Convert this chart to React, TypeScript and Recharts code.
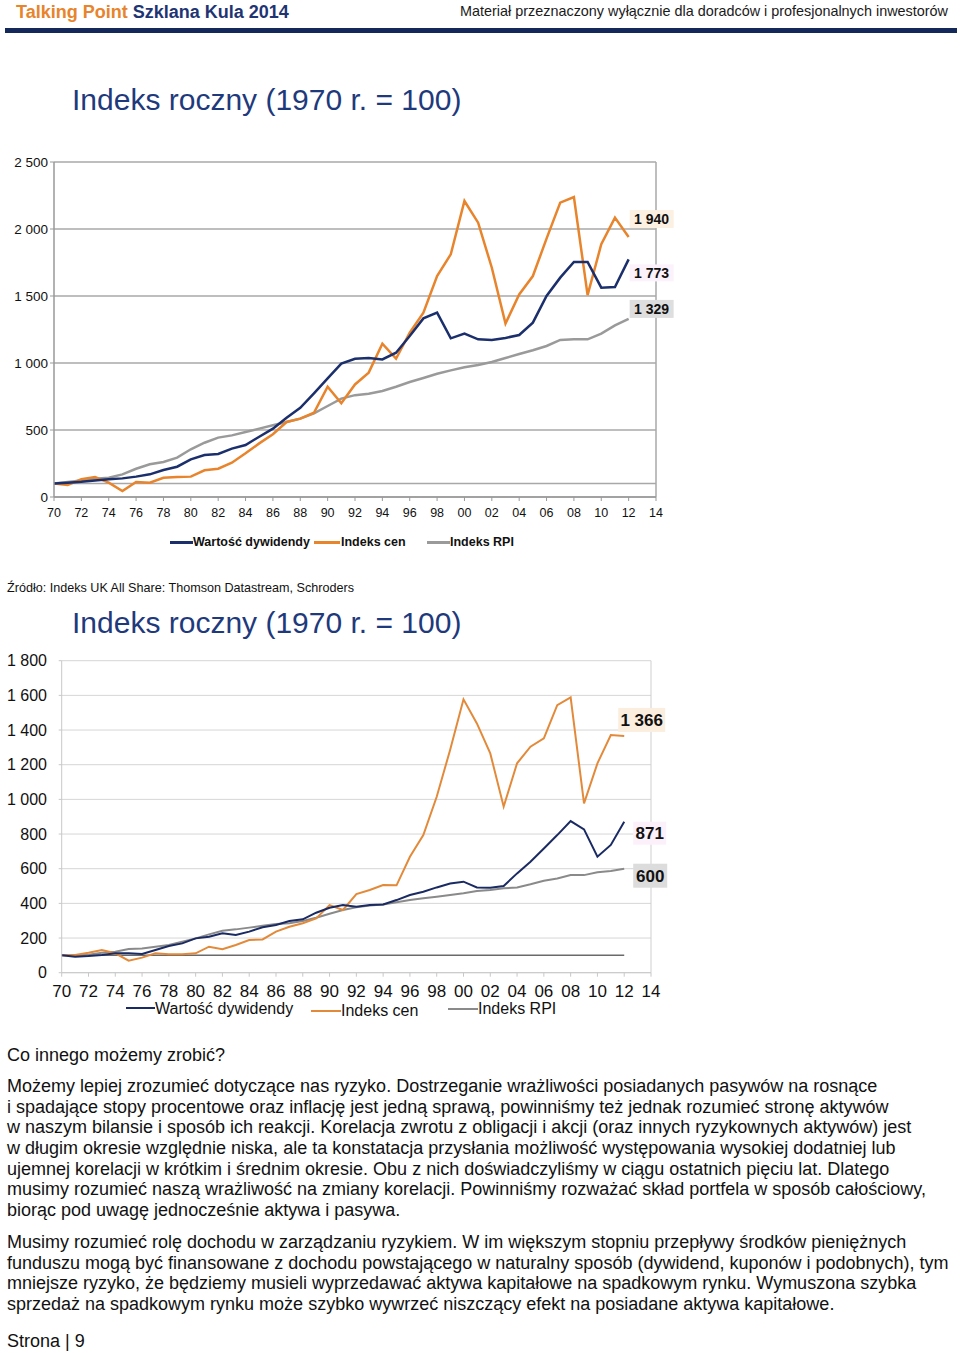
import React from 'react';
import { LineChart, Line, XAxis, YAxis, CartesianGrid, ReferenceLine, LabelList } from 'recharts';

// ---------- data ----------
const years = [
  1970, 1971, 1972, 1973, 1974, 1975, 1976, 1977, 1978, 1979,
  1980, 1981, 1982, 1983, 1984, 1985, 1986, 1987, 1988, 1989,
  1990, 1991, 1992, 1993, 1994, 1995, 1996, 1997, 1998, 1999,
  2000, 2001, 2002, 2003, 2004, 2005, 2006, 2007, 2008, 2009,
  2010, 2011, 2012,
];

// Chart 1 (nominal)
const dividends1 = [
  100, 107, 114, 124, 132, 139, 152, 169, 201, 226,
  281, 313, 321, 361, 388, 450, 510, 592, 665, 774,
  885, 995, 1032, 1037, 1027, 1077, 1201, 1333, 1376, 1184,
  1219, 1177, 1172, 1187, 1209, 1301, 1500, 1637, 1754, 1754,
  1562, 1567, 1773,
];
const prices1 = [
  100, 90, 132, 149, 107, 45, 112, 107, 144, 149,
  152, 199, 211, 256, 326, 400, 468, 560, 585, 629,
  823, 700, 840, 928, 1144, 1032, 1226, 1376, 1649, 1811,
  2209, 2047, 1711, 1294, 1512, 1649, 1928, 2197, 2239, 1507,
  1886, 2085, 1940,
];
const rpi1 = [
  100, 112, 124, 137, 144, 169, 211, 244, 261, 294,
  356, 405, 443, 460, 485, 510, 535, 560, 585, 624,
  679, 734, 760, 771, 791, 823, 858, 888, 920, 945,
  968, 985, 1007, 1037, 1067, 1095, 1127, 1172, 1177, 1177,
  1219, 1281, 1329,
];

// Chart 2 (real terms)
const dividends2 = [
  100, 92, 96, 102, 112, 112, 108, 131, 154, 169,
  198, 208, 227, 217, 237, 262, 275, 298, 308, 346,
  375, 390, 381, 390, 394, 419, 448, 467, 492, 515,
  525, 492, 490, 500, 573, 640, 717, 794, 875, 827,
  669, 737, 871,
];
const prices2 = [
  100, 102, 115, 131, 112, 69, 87, 112, 106, 106,
  112, 150, 135, 160, 188, 192, 237, 265, 285, 313,
  390, 362, 454, 477, 506, 504, 669, 794, 1015, 1285,
  1577, 1438, 1265, 958, 1208, 1304, 1352, 1544, 1588, 977,
  1208, 1371, 1366,
];
const rpi2 = [
  100, 100, 104, 115, 121, 137, 140, 150, 160, 179,
  198, 221, 242, 250, 260, 271, 281, 285, 298, 317,
  340, 362, 377, 387, 394, 406, 419, 429, 438, 448,
  458, 471, 477, 487, 492, 510, 531, 544, 563, 563,
  579, 587, 600,
];

const yearTicks = [
  1970, 1972, 1974, 1976, 1978, 1980, 1982, 1984, 1986, 1988, 1990, 1992,
  1994, 1996, 1998, 2000, 2002, 2004, 2006, 2008, 2010, 2012, 2014,
];
const yTicks1 = [0, 500, 1000, 1500, 2000, 2500];
const yTicks2 = [0, 200, 400, 600, 800, 1000, 1200, 1400, 1600, 1800];
const baseValue = 100;

const seriesNames = ['Wartość dywidendy', 'Indeks cen', 'Indeks RPI'];

const titleText = 'Indeks roczny (1970 r. = 100)';
const sourceText = 'Źródło: Indeks UK All Share: Thomson Datastream, Schroders';
const para1 = [
  'Możemy lepiej zrozumieć dotyczące nas ryzyko. Dostrzeganie wrażliwości posiadanych pasywów na rosnące',
  'i spadające stopy procentowe oraz inflację jest jedną sprawą, powinniśmy też jednak rozumieć stronę aktywów',
  'w naszym bilansie i sposób ich reakcji. Korelacja zwrotu z obligacji i akcji (oraz innych ryzykownych aktywów) jest',
  'w długim okresie względnie niska, ale ta konstatacja przysłania możliwość występowania wysokiej dodatniej lub',
  'ujemnej korelacji w krótkim i średnim okresie. Obu z nich doświadczyliśmy w ciągu ostatnich pięciu lat. Dlatego',
  'musimy rozumieć naszą wrażliwość na zmiany korelacji. Powinniśmy rozważać skład portfela w sposób całościowy,',
  'biorąc pod uwagę jednocześnie aktywa i pasywa.',
];
const para2 = [
  'Musimy rozumieć rolę dochodu w zarządzaniu ryzykiem. W im większym stopniu przepływy środków pieniężnych',
  'funduszu mogą być finansowane z dochodu powstającego w naturalny sposób (dywidend, kuponów i podobnych), tym',
  'mniejsze ryzyko, że będziemy musieli wyprzedawać aktywa kapitałowe na spadkowym rynku. Wymuszona szybka',
  'sprzedaż na spadkowym rynku może szybko wywrzeć niszczący efekt na posiadane aktywa kapitałowe.',
];

// ---------- helpers ----------
const FONT = "'Liberation Sans', Arial, Helvetica, sans-serif";
const NAVY = '#1b2f6c';
const ORANGE = '#e8842c';
const GRAY = '#9a9a9a';

const fmtThousands = (v: number) => {
  const s = String(Math.round(v));
  return s.length > 3 ? s.slice(0, s.length - 3) + ' ' + s.slice(-3) : s;
};
const fmtYear = (v: number) => String(v % 100).padStart(2, '0');

const data1 = years.map((y, i) => ({ year: y, div: dividends1[i], price: prices1[i], rpi: rpi1[i] }));
const data2 = years.map((y, i) => ({ year: y, div: dividends2[i], price: prices2[i], rpi: rpi2[i] }));
const lastIdx = years.length - 1;

type Box = { dx: number; dy: number; w: number; h: number };
function endLabel(box: Box, fill: string, fontSize: number) {
  return (props: any) => {
    const { x, y, value, index } = props;
    if (index !== lastIdx) return null;
    const bx = Number(x) + box.dx;
    const by = Number(y) + box.dy;
    return (
      <g>
        <rect x={bx} y={by} width={box.w} height={box.h} fill={fill} />
        <text
          x={bx + box.w / 2}
          y={by + box.h / 2}
          dy="0.36em"
          textAnchor="middle"
          fontWeight="bold"
          fontSize={fontSize}
          fontFamily={FONT}
          fill="#111"
        >
          {fmtThousands(Number(value))}
        </text>
      </g>
    );
  };
}

const abs = (left: number, top: number, extra: React.CSSProperties = {}): React.CSSProperties => ({
  position: 'absolute',
  left,
  top,
  whiteSpace: 'nowrap',
  ...extra,
});

function LegendLine({ left, top, width, color, h = 2.5 }: { left: number; top: number; width: number; color: string; h?: number }) {
  return <div style={abs(left, top, { width, height: h, background: color })} />;
}

export default function App() {
  const bodyFont = 18;
  const bodyLH = 20.65;
  return (
    <div
      style={{
        position: 'absolute',
        left: 0,
        top: 0,
        width: 960,
        height: 1353,
        background: '#fff',
        fontFamily: FONT,
        color: '#111',
        overflow: 'hidden',
      }}
    >
      {/* Header */}
      <div style={abs(16, 2, { fontSize: 18, lineHeight: '20px', fontWeight: 'bold' })}>
        <span style={{ color: ORANGE }}>Talking Point </span>
        <span style={{ color: '#1f3573' }}>Szklana Kula 2014</span>
      </div>
      <div style={abs(0, 3, { width: 948, textAlign: 'right', fontSize: 14.4, lineHeight: '17px', color: '#1a1a1a' })}>
        Materiał przeznaczony wyłącznie dla doradców i profesjonalnych inwestorów
      </div>
      <div style={abs(5, 28, { width: 952, height: 5, background: '#14285a' })} />

      {/* Title 1 */}
      <div style={abs(72, 85, { fontSize: 30, lineHeight: '30px', color: '#1f3a7c' })}>{titleText}</div>

      {/* Chart 1 */}
      <div style={abs(0, 150)}>
        <LineChart width={680} height={370} data={data1} margin={{ top: 12, right: 24, bottom: 3, left: 4 }}>
          <CartesianGrid vertical={false} stroke="#a8a8a8" strokeWidth={1.5} />
          <XAxis
            dataKey="year"
            type="number"
            domain={[1970, 2014]}
            ticks={yearTicks}
            interval={0}
            tickFormatter={fmtYear}
            tickSize={4}
            tickMargin={7}
            height={20}
            axisLine={{ stroke: '#999', strokeWidth: 1.5 }}
            tickLine={{ stroke: '#999' }}
            tick={{ fontSize: 12.5, fill: '#111', fontFamily: FONT }}
          />
          <YAxis
            domain={[0, 2500]}
            ticks={yTicks1}
            interval={0}
            tickFormatter={fmtThousands}
            tickSize={4}
            tickMargin={2}
            width={50}
            axisLine={{ stroke: '#999', strokeWidth: 1.5 }}
            tickLine={{ stroke: '#999' }}
            tick={{ fontSize: 13.5, fill: '#111', fontFamily: FONT }}
          />
          <ReferenceLine x={2014} stroke="#a8a8a8" strokeWidth={1.5} />
          <ReferenceLine y={baseValue} stroke="#a8a8a8" strokeWidth={1.5} />
          <Line dataKey="rpi" name={seriesNames[2]} stroke={GRAY} strokeWidth={2.5} dot={false} isAnimationActive={false} type="linear">
            <LabelList dataKey="rpi" content={endLabel({ dx: 1, dy: -19, w: 44, h: 18 }, '#dedede', 14)} />
          </Line>
          <Line dataKey="price" name={seriesNames[1]} stroke={ORANGE} strokeWidth={2.5} dot={false} isAnimationActive={false} type="linear">
            <LabelList dataKey="price" content={endLabel({ dx: 1, dy: -27, w: 44, h: 18 }, '#fcf0e2', 14)} />
          </Line>
          <Line dataKey="div" name={seriesNames[0]} stroke={NAVY} strokeWidth={2.5} dot={false} isAnimationActive={false} type="linear">
            <LabelList dataKey="div" content={endLabel({ dx: 1, dy: 5, w: 44, h: 17 }, '#fcf2fb', 14)} />
          </Line>
        </LineChart>
      </div>

      {/* Legend 1 */}
      <LegendLine left={170} top={541} width={23} color={NAVY} />
      <div style={abs(193, 535, { fontSize: 12.5, lineHeight: '14px', fontWeight: 'bold' })}>{seriesNames[0]}</div>
      <LegendLine left={314} top={541} width={26} color={ORANGE} />
      <div style={abs(341, 535, { fontSize: 12.5, lineHeight: '14px', fontWeight: 'bold' })}>{seriesNames[1]}</div>
      <LegendLine left={427} top={541} width={23} color={GRAY} />
      <div style={abs(450, 535, { fontSize: 12.5, lineHeight: '14px', fontWeight: 'bold' })}>{seriesNames[2]}</div>

      {/* Source */}
      <div style={abs(7, 581, { fontSize: 12.6, lineHeight: '14px' })}>{sourceText}</div>

      {/* Title 2 */}
      <div style={abs(72, 608, { fontSize: 30, lineHeight: '30px', color: '#1f3a7c' })}>{titleText}</div>

      {/* Chart 2 */}
      <div style={abs(0, 640)}>
        <LineChart width={680} height={385} data={data2} margin={{ top: 20.7, right: 29, bottom: 22.3, left: 5.7 }}>
          <CartesianGrid vertical={false} stroke="#d6d6d6" strokeWidth={1} />
          <XAxis
            dataKey="year"
            type="number"
            domain={[1970, 2014]}
            ticks={yearTicks}
            interval={0}
            tickFormatter={fmtYear}
            tickSize={4}
            tickMargin={8}
            height={30}
            axisLine={{ stroke: '#c8c8c8', strokeWidth: 1 }}
            tickLine={{ stroke: '#c8c8c8' }}
            tick={{ fontSize: 17, fill: '#111', fontFamily: FONT }}
          />
          <YAxis
            domain={[0, 1800]}
            ticks={yTicks2}
            interval={0}
            tickFormatter={fmtThousands}
            tickSize={3}
            tickMargin={11.7}
            width={56}
            axisLine={{ stroke: '#c8c8c8', strokeWidth: 1 }}
            tickLine={{ stroke: '#c8c8c8' }}
            tick={{ fontSize: 16, fill: '#111', fontFamily: FONT }}
          />
          <ReferenceLine x={2014} stroke="#cfcfcf" strokeWidth={1} />
          <ReferenceLine
            segment={[
              { x: years[0], y: baseValue },
              { x: years[lastIdx], y: baseValue },
            ]}
            stroke="#6a6a6a"
            strokeWidth={1.5}
          />
          <Line dataKey="rpi" name={seriesNames[2]} stroke="#8a8a8a" strokeWidth={2} dot={false} isAnimationActive={false} type="linear">
            <LabelList dataKey="rpi" content={endLabel({ dx: 9, dy: -5, w: 34, h: 24 }, '#dcdcdc', 17)} />
          </Line>
          <Line dataKey="price" name={seriesNames[1]} stroke="#e38a3a" strokeWidth={2} dot={false} isAnimationActive={false} type="linear">
            <LabelList dataKey="price" content={endLabel({ dx: -6, dy: -28, w: 47, h: 24 }, '#fbeede', 17)} />
          </Line>
          <Line dataKey="div" name={seriesNames[0]} stroke="#1a2a62" strokeWidth={2} dot={false} isAnimationActive={false} type="linear">
            <LabelList dataKey="div" content={endLabel({ dx: 9, dy: 0, w: 33, h: 23 }, '#fcf0fb', 17)} />
          </Line>
        </LineChart>
      </div>

      {/* Legend 2 */}
      <LegendLine left={126} top={1007} width={29} color="#1a2a62" h={2} />
      <div style={abs(155, 1000, { fontSize: 16, lineHeight: '18px' })}>{seriesNames[0]}</div>
      <LegendLine left={311} top={1010} width={30} color="#e38a3a" h={2} />
      <div style={abs(341, 1002, { fontSize: 16, lineHeight: '18px' })}>{seriesNames[1]}</div>
      <LegendLine left={448} top={1008} width={30} color="#8a8a8a" h={2} />
      <div style={abs(478, 1000, { fontSize: 16, lineHeight: '18px' })}>{seriesNames[2]}</div>

      {/* Body text */}
      <div style={abs(7, 1045, { fontSize: bodyFont, lineHeight: bodyLH + 'px' })}>Co innego możemy zrobić?</div>
      {para1.map((t, i) => (
        <div key={'p1' + i} style={abs(7, 1076 + i * bodyLH, { fontSize: bodyFont, lineHeight: bodyLH + 'px' })}>
          {t}
        </div>
      ))}
      {para2.map((t, i) => (
        <div key={'p2' + i} style={abs(7, 1232 + i * bodyLH, { fontSize: bodyFont, lineHeight: bodyLH + 'px' })}>
          {t}
        </div>
      ))}
      <div style={abs(7, 1331, { fontSize: bodyFont, lineHeight: bodyLH + 'px' })}>Strona | 9</div>
    </div>
  );
}
